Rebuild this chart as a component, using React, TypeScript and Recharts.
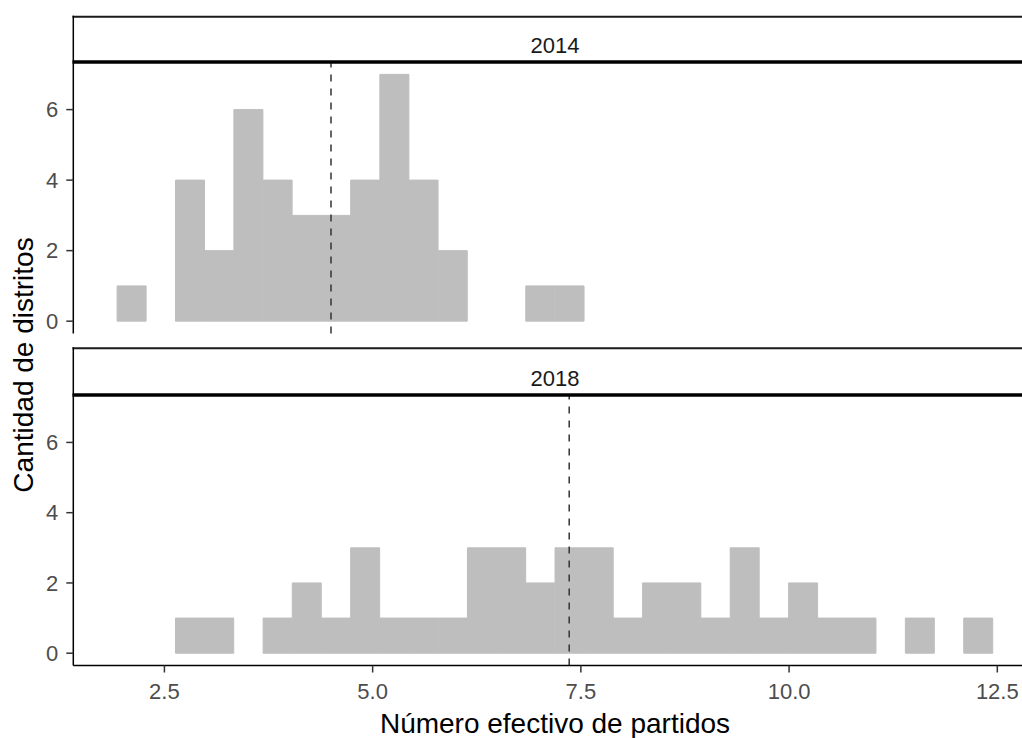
// Faceted histogram: effective number of parties per district, 2014 vs 2018
import React from "react";
import { BarChart, Bar, XAxis, YAxis, ReferenceLine } from "recharts";

// bin centres (30 bins, shared by both facets)
const binCenters = [
  2.107, 2.458, 2.808, 3.159, 3.509, 3.86, 4.21, 4.561, 4.911, 5.262,
  5.612, 5.963, 6.313, 6.664, 7.014, 7.365, 7.715, 8.066, 8.416, 8.767,
  9.117, 9.468, 9.818, 10.169, 10.519, 10.87, 11.22, 11.571, 11.921, 12.272,
];

const counts2014 = [
  1, 0, 4, 2, 6, 4, 3, 3, 4, 7, 4, 2, 0, 0, 1, 1, 0, 0, 0, 0, 0, 0, 0, 0, 0,
  0, 0, 0, 0, 0,
];
const counts2018 = [
  0, 0, 1, 1, 0, 1, 2, 1, 3, 1, 1, 1, 3, 3, 2, 3, 3, 1, 2, 2, 1, 3, 1, 2, 1,
  1, 0, 1, 0, 1,
];

const mean2014 = 4.5;
const mean2018 = 7.36;

const xTicks = [2.5, 5, 7.5, 10, 12.5];
const yTicks = [0, 2, 4, 6];
const xDomain: [number, number] = [1.406, 12.973];
const yDomain: [number, number] = [-0.35, 7.35];

const FONT = '"Liberation Sans", Arial, Helvetica, sans-serif';
const CHART_W = 1060;

const tickStyle = { fontSize: 22, fill: "#4d4d4d" };

function Panel({
  counts,
  mean,
  showX,
  height,
  margin,
}: {
  counts: number[];
  mean: number;
  showX: boolean;
  height: number;
  margin: { top: number; right: number; bottom: number; left: number };
}) {
  const data = binCenters.map((x, i) => ({ x, count: counts[i] }));
  return (
    <BarChart
      width={CHART_W}
      height={height}
      data={data}
      margin={margin}
      barCategoryGap={0}
      barGap={0}
    >
      {showX ? (
        <XAxis
          dataKey="x"
          type="number"
          domain={xDomain}
          allowDataOverflow
          ticks={xTicks}
          interval={0}
          tickFormatter={(v: number) => v.toFixed(1)}
          height={40}
          tickSize={7}
          tickMargin={11}
          tick={tickStyle}
          axisLine={{ stroke: "#000", strokeWidth: 1.5 }}
          tickLine={{ stroke: "#333", strokeWidth: 1.5 }}
        />
      ) : (
        <XAxis
          dataKey="x"
          type="number"
          domain={xDomain}
          allowDataOverflow
          hide
          height={0}
        />
      )}
      <YAxis
        type="number"
        domain={yDomain}
        allowDataOverflow
        ticks={yTicks}
        interval={0}
        width={60}
        tickSize={7}
        tickMargin={8}
        tick={tickStyle}
        axisLine={{ stroke: "#000", strokeWidth: 1.5 }}
        tickLine={{ stroke: "#333", strokeWidth: 1.5 }}
      />
      {/* stroke in the fill colour hides the hairline seams between bins */}
      <Bar
        dataKey="count"
        fill="#bebebe"
        stroke="#bebebe"
        strokeWidth={1}
        isAnimationActive={false}
      />
      <ReferenceLine
        x={mean}
        stroke="#333"
        strokeWidth={1.5}
        strokeDasharray="7 7"
      />
    </BarChart>
  );
}

function Strip({ top, bottom, label }: { top: number; bottom: number; label: string }) {
  return (
    <g>
      <rect x={73} y={top} width={980} height={bottom - top} fill="#fff" />
      <line x1={72.5} x2={1040} y1={top} y2={top} stroke="#1a1a1a" strokeWidth={2} />
      <line x1={72.5} x2={1040} y1={bottom} y2={bottom} stroke="#000" strokeWidth={3.5} />
      <line x1={73.3} x2={73.3} y1={top - 1} y2={bottom} stroke="#000" strokeWidth={1.5} />
      <text
        x={555}
        y={bottom - 9}
        textAnchor="middle"
        fontSize={22}
        fill="#1a1a1a"
      >
        {label}
      </text>
    </g>
  );
}

export default function App() {
  return (
    <div
      style={{
        position: "fixed",
        left: 0,
        top: 0,
        width: 1022,
        height: 738,
        overflow: "hidden",
        background: "#fff",
        fontFamily: FONT,
      }}
    >
      <div style={{ position: "absolute", left: 0, top: 0 }}>
        <Panel
          counts={counts2014}
          mean={mean2014}
          showX={false}
          height={340}
          margin={{ top: 62, right: 23.3, bottom: 6.5, left: 13.3 }}
        />
      </div>
      <div style={{ position: "absolute", left: 0, top: 340 }}>
        <Panel
          counts={counts2018}
          mean={mean2018}
          showX={true}
          height={398}
          margin={{ top: 55, right: 23.3, bottom: 32.5, left: 13.3 }}
        />
      </div>
      <svg
        width={1022}
        height={738}
        style={{ position: "absolute", left: 0, top: 0, pointerEvents: "none" }}
      >
        <Strip top={16.7} bottom={62} label="2014" />
        <Strip top={348.3} bottom={395} label="2018" />
        <text
          x={33}
          y={365}
          transform="rotate(-90 33 365)"
          textAnchor="middle"
          fontSize={28}
          fill="#000"
        >
          Cantidad de distritos
        </text>
        <text x={555} y={733} textAnchor="middle" fontSize={28} fill="#000">
          Número efectivo de partidos
        </text>
      </svg>
    </div>
  );
}
